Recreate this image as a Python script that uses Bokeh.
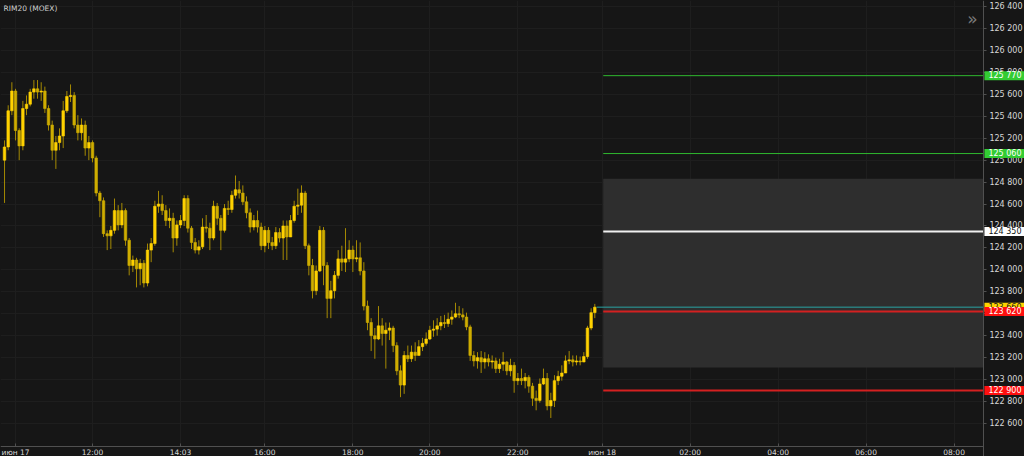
from bokeh.plotting import figure
from bokeh.models import Range1d, FixedTicker, Label, BoxAnnotation, ColumnDataSource
from bokeh.embed import file_html
from bokeh.resources import INLINE

chart_title = "RIM20 (MOEX)"

# 5-minute candles (index = bar number on the session time scale)
first_open = 125000
close = [
    125120, 125450, 125630, 125270, 125130, 125470, 125510, 125620, 125650, 125620,
    125630, 125470, 125320, 125090, 125160, 125220, 125450, 125580, 125590, 125320,
    125250, 125320, 125110, 125160, 125020, 124700, 124630, 124330, 124310, 124360,
    124540, 124410, 124540, 124270, 124040, 124090, 124010, 124060, 123880, 124180,
    124240, 124580, 124600, 124540, 124450, 124470, 124290, 124410, 124450, 124650,
    124380, 124250, 124180, 124210, 124390, 124380, 124290, 124580, 124470, 124360,
    124560, 124550, 124680, 124730, 124700, 124620, 124520, 124390, 124450, 124390,
    124220, 124360, 124250, 124220, 124340, 124290, 124400, 124300, 124450, 124580,
    124590, 124700, 124220, 124040, 123810, 123990, 124360, 124040, 123740, 123810,
    123950, 124100, 124070, 124100, 124180, 124100, 124110, 123990, 123670, 123520,
    123400, 123370, 123490, 123420, 123450, 123470, 123310, 123080, 122950, 123220,
    123190, 123250, 123220, 123300, 123330, 123370, 123450, 123460, 123490, 123520,
    123510, 123550, 123570, 123600, 123590, 123570, 123480, 123220, 123170, 123200,
    123160, 123190, 123160, 123170, 123100, 123140, 123160, 123080, 123130, 122990,
    123010, 122990, 123020, 122940, 122830, 122810, 122960, 123010, 122760, 122810,
    122990, 123030, 123060, 123170, 123180, 123160, 123170, 123160, 123210, 123470,
    123610, 123660,
]
high = [
    125180, 125500, 125710, 125650, 125290, 125540, 125590, 125650, 125730, 125730,
    125710, 125670, 125500, 125360, 125220, 125290, 125540, 125630, 125690, 125620,
    125410, 125380, 125360, 125220, 125180, 125040, 124720, 124660, 124360, 124400,
    124650, 124590, 124610, 124560, 124290, 124130, 124110, 124100, 124090, 124240,
    124290, 124630, 124720, 124680, 124590, 124560, 124520, 124450, 124500, 124680,
    124680, 124400, 124290, 124270, 124470, 124500, 124430, 124630, 124610, 124500,
    124600, 124630, 124720, 124860, 124810, 124770, 124670, 124560, 124500, 124540,
    124430, 124400, 124390, 124300, 124390, 124380, 124450, 124450, 124500, 124630,
    124740, 124770, 124720, 124240, 124100, 124040, 124400, 124390, 124070, 123900,
    123990, 124180, 124220, 124380, 124270, 124220, 124270, 124250, 124070, 123720,
    123560, 123470, 123670, 123560, 123520, 123520, 123490, 123340, 123130, 123260,
    123310, 123310, 123340, 123360, 123380, 123430, 123490, 123540, 123560, 123580,
    123590, 123610, 123630, 123700, 123670, 123650, 123610, 123500, 123260, 123250,
    123260, 123250, 123230, 123220, 123200, 123190, 123250, 123170, 123190, 123160,
    123060, 123100, 123060, 123040, 122970, 122900, 123010, 123100, 123060, 122880,
    123040, 123080, 123130, 123220, 123260, 123220, 123220, 123210, 123250, 123490,
    123650, 123690,
]
low = [
    124610, 125090, 125410, 125180, 125000, 125090, 125410, 125490, 125560, 125560,
    125540, 125430, 125270, 125000, 124920, 125090, 125110, 125430, 125530, 125290,
    125180, 125180, 125040, 125000, 124980, 124670, 124480, 124300, 124180, 124190,
    124330, 124360, 124380, 124220, 123950, 123980, 123840, 123860, 123840, 123850,
    124070, 124220, 124520, 124500, 124400, 124380, 124160, 124220, 124380, 124400,
    124340, 124190, 124150, 124140, 124190, 124340, 124180, 124270, 124410, 124180,
    124340, 124500, 124520, 124650, 124650, 124590, 124470, 124340, 124360, 124340,
    124180, 124160, 124190, 124180, 124190, 124250, 124090, 124090, 124360, 124430,
    124500, 124520, 124190, 123950, 123740, 123770, 123980, 123860, 123560, 123560,
    123740, 123920, 123990, 123980, 124070, 123980, 124070, 123950, 123630, 123450,
    123260, 123190, 123360, 123310, 123100, 123360, 123250, 123040, 122840, 122870,
    123160, 123160, 123170, 123220, 123260, 123310, 123360, 123390, 123400, 123450,
    123470, 123480, 123500, 123560, 123560, 123540, 123450, 123170, 123120, 123100,
    123060, 123100, 123120, 123100, 123060, 123060, 123080, 123040, 123030, 122880,
    122950, 122950, 122920, 122880, 122760, 122720, 122790, 122950, 122720, 122650,
    122750, 122950, 122990, 123060, 123140, 123120, 123130, 123130, 123160, 123190,
    123450, 123560,
]
open_ = [first_open] + close[:-1]
bar_index = list(range(len(close)))

# time axis (bar-index positions of the labelled times)
x_tick_pos = [3, 24, 48, 71, 95, 116, 140, 163, 187, 211, 235, 259]
x_tick_labels = ["июн 17", "12:00", "14:03", "16:00", "18:00", "20:00", "22:00",
                 "июн 18", "02:00", "04:00", "06:00", "08:00"]
y_tick_vals = list(range(122600, 126401, 200))

# projected zone and levels
forecast_start = 163.3
zone_top = 124830
zone_bottom = 123110
level_values = [125770, 125060, 124350, 123620, 122900]
level_colors = ["#2fb82f", "#2fb82f", "#f0f0f0", "#d42020", "#d42020"]
level_widths = [1, 1, 2, 2, 2]
last_price = 123660

# price tags on the axis (drawn in this order)
tag_values = [125770, 125060, 124350, 123660, 123620, 122900]
tag_bg = ["#33cc33", "#33cc33", "#ffffff", "#ffd400", "#ff1010", "#ff1010"]
tag_fg = ["#ffffff", "#ffffff", "#111111", "#222222", "#ffffff", "#ffffff"]

# view: the frame spans the whole canvas; the axes sit at fixed locations inside it
X_START, X_FRAME_END = -1.1, 278.2
AXIS_X = 267.0            # price scale position (time index)
Y_FRAME_BOTTOM, Y_END = 122299, 126455
AXIS_Y = 122390           # time scale position (price)

BG = "#161616"
FONT = "DejaVu Sans"


def fmt_price(v):
    return f"{v // 1000} {v % 1000:03d}"


p = figure(width=1024, height=456, output_backend="svg", toolbar_location=None,
           x_range=Range1d(X_START, X_FRAME_END), y_range=Range1d(Y_FRAME_BOTTOM, Y_END),
           y_axis_location="right",
           min_border_left=0, min_border_top=0, min_border_right=0, min_border_bottom=0,
           background_fill_color=BG, border_fill_color=BG, outline_line_color=None)

# axes
p.xaxis.ticker = FixedTicker(ticks=x_tick_pos)
p.xaxis.major_label_overrides = dict(zip(x_tick_pos, x_tick_labels))
p.xaxis.fixed_location = AXIS_Y
p.xaxis.bounds = (X_START, AXIS_X)
p.yaxis.ticker = FixedTicker(ticks=y_tick_vals)
p.yaxis.major_label_overrides = {v: fmt_price(v) for v in y_tick_vals}
p.yaxis.fixed_location = AXIS_X
for ax in (p.xaxis[0], p.yaxis[0]):
    ax.axis_line_color = "#505050"
    ax.major_tick_line_color = "#505050"
    ax.minor_tick_line_color = None
    ax.major_label_text_color = "#d8d8d8"
    ax.major_label_text_font = FONT
p.xaxis.major_tick_in = 3
p.xaxis.major_tick_out = 0
p.xaxis.major_label_standoff = 1
p.xaxis.major_label_text_font_size = "7.5px"
p.yaxis.major_tick_in = 0
p.yaxis.major_tick_out = 3
p.yaxis.major_label_standoff = 3
p.yaxis.major_label_text_font_size = "8px"
p.yaxis.major_label_text_baseline = "middle"

p.xgrid.grid_line_color = "#1e1e1e"
p.ygrid.grid_line_color = "#1e1e1e"

# zone
p.add_layout(BoxAnnotation(left=forecast_start, right=AXIS_X, top=zone_top, bottom=zone_bottom,
                           fill_color="#2e2e2e", fill_alpha=1.0, line_color=None,
                           level="underlay"))
# plain background behind the scales
p.add_layout(BoxAnnotation(left=AXIS_X, fill_color=BG, fill_alpha=1.0, line_color=None,
                           level="underlay"))
p.add_layout(BoxAnnotation(top=AXIS_Y, fill_color=BG, fill_alpha=1.0, line_color=None,
                           level="underlay"))

# candles
up = [c >= o for o, c in zip(open_, close)]
src = ColumnDataSource(dict(
    x=bar_index, o=open_, h=high, l=low, c=close,
    top=[max(o, c) for o, c in zip(open_, close)],
    bot=[min(o, c) for o, c in zip(open_, close)],
    body=["#ffd200" if u else "#cfad00" for u in up],
))
p.segment(x0="x", y0="h", x1="x", y1="l", line_color="#b59700", line_alpha=0.9,
          line_width=1, source=src)
p.vbar(x="x", width=0.7, top="top", bottom="bot", fill_color="body",
       line_color="body", line_width=0.6, source=src)

# level lines
n = len(level_values)
p.segment(x0=[forecast_start] * n, x1=[AXIS_X] * n, y0=level_values, y1=level_values,
          line_color=level_colors, line_width=level_widths)
p.segment(x0=[bar_index[-1] + 0.5], x1=[AXIS_X], y0=[last_price], y1=[last_price],
          line_color="#2aa3a3", line_width=1)

# axis price tags
for v, bg, fg in zip(tag_values, tag_bg, tag_fg):
    p.add_layout(Label(x=AXIS_X, y=v, text=fmt_price(v), x_offset=1,
                       text_align="left", text_baseline="middle",
                       text_font=FONT, text_font_size="8px", text_color=fg,
                       background_fill_color=bg, background_fill_alpha=1.0,
                       padding=(4, 0)))

# title and chevron
p.add_layout(Label(x=3, x_units="screen", y=Y_END, y_offset=-3, text=chart_title,
                   text_baseline="top", text_align="left", text_font=FONT,
                   text_font_size="7.5px", text_color="#cfcfcf"))
p.add_layout(Label(x=AXIS_X, y=Y_END, x_offset=-11, y_offset=-18, text="»",
                   text_baseline="middle", text_align="center", text_font=FONT,
                   text_font_size="17px", text_color="#7a7a7a"))

html = file_html(p, INLINE, title=chart_title)
html = html.replace("</head>", "<style>html,body{margin:0;padding:0;background:#161616;overflow:hidden}</style></head>")
open("out.html", "w").write(html)
